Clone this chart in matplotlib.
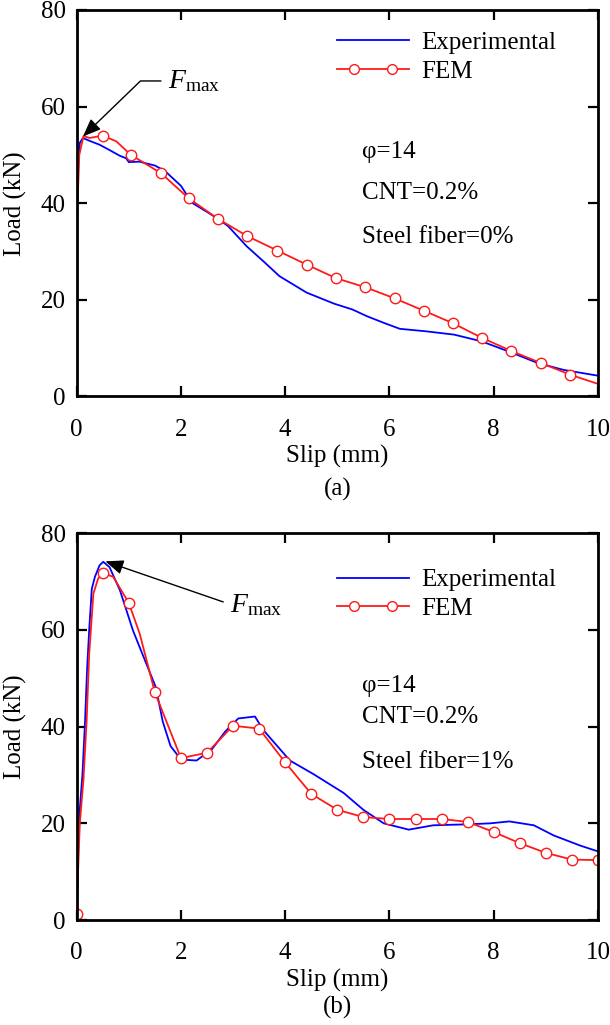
#!/usr/bin/env python3

import matplotlib
matplotlib.use("Agg")
import matplotlib.pyplot as plt
from matplotlib.lines import Line2D
from matplotlib.legend_handler import HandlerLine2D, HandlerTuple


##### step 1: data #####
# (a) steel fiber = 0%
exp_a_x = [0.0, 0.03, 0.06, 0.12, 0.25, 0.44, 0.63, 0.83, 0.95, 1.0, 1.2, 1.5, 1.69,
           2.0, 2.21, 2.5, 2.75, 2.91, 3.26, 3.6, 3.89, 4.41, 4.94, 5.29, 5.57, 5.9,
           6.2, 6.69, 7.24, 7.77, 8.29, 8.85, 9.34, 10.0]
exp_a_y = [32.5, 48.0, 52.5, 53.5, 52.9, 52.1, 51.0, 49.8, 49.3, 48.5, 48.6, 47.8, 46.7,
           43.6, 40.1, 38.2, 36.5, 35.2, 31.1, 27.8, 24.9, 21.5, 19.2, 18.0, 16.6, 15.2,
           14.0, 13.5, 12.8, 11.4, 9.3, 6.9, 5.5, 4.3]

fem_a_x = [0.0, 0.05, 0.13, 0.25, 0.5, 0.76, 1.04, 1.62, 2.15, 2.72, 3.27, 3.85, 4.41,
           4.97, 5.54, 6.10, 6.67, 7.21, 7.78, 8.34, 8.91, 9.47, 10.0]
fem_a_y = [35.0, 50.0, 53.9, 53.5, 54.0, 52.8, 50.0, 46.2, 41.0, 36.7, 33.2, 30.2, 27.3,
           24.5, 22.6, 20.3, 17.7, 15.2, 12.1, 9.4, 6.9, 4.5, 2.6]
fem_a_marks = [4] + list(range(6, 22))

# (b) steel fiber = 1%
exp_b_x = [0.0, 0.03, 0.06, 0.11, 0.16, 0.2, 0.24, 0.29, 0.35, 0.44, 0.51, 0.63, 0.83,
           1.08, 1.21, 1.52, 1.65, 1.8, 2.0, 2.3, 2.6, 2.85, 3.1, 3.42, 3.58, 4.09, 4.54,
           5.12, 5.5, 5.89, 6.37, 6.84, 7.49, 7.93, 8.3, 8.77, 9.15, 9.66, 10.0]
exp_b_y = [0.5, 15.0, 23.0, 30.0, 41.0, 52.0, 60.0, 68.5, 71.0, 73.4, 74.1, 73.0, 68.2,
           59.9, 56.4, 48.1, 41.1, 36.0, 33.2, 33.0, 35.4, 39.0, 41.7, 42.1, 39.3, 33.0,
           30.2, 26.3, 22.8, 20.0, 18.7, 19.6, 19.8, 20.0, 20.4, 19.6, 17.5, 15.4, 14.2]

fem_b_x = [0.0, 0.02, 0.06, 0.13, 0.19, 0.24, 0.32, 0.41, 0.5, 0.7, 1.0, 1.21, 1.5, 2.0,
           2.5, 3.0, 3.5, 4.0, 4.5, 5.0, 5.5, 6.0, 6.5, 7.0, 7.5, 8.0, 8.5, 9.0, 9.5, 10.0]
fem_b_y = [1.2, 8.0, 20.0, 29.0, 41.0, 55.0, 67.5, 70.6, 71.8, 71.0, 65.6, 59.2, 47.1,
           33.5, 34.6, 40.2, 39.6, 32.6, 26.1, 22.8, 21.3, 20.9, 20.9, 20.9, 20.3, 18.2,
           15.9, 13.9, 12.5, 12.4]
fem_b_marks = [0, 8, 10] + list(range(12, 30))

X_TICKS = [0, 2, 4, 6, 8, 10]
Y_TICKS = [0, 20, 40, 60, 80]

PANELS = [
    dict(exp_x=exp_a_x, exp_y=exp_a_y, fem_x=fem_a_x, fem_y=fem_a_y, marks=fem_a_marks,
         fiber="Steel fiber=0%", caption="(a)",
         head=(0.12, 53.8), text_xy=(1.75, 65.3), angleB=44,
         notes_xy=(5.47, [50.6, 42.1, 33.0]), leg_y=1.002),
    dict(exp_x=exp_b_x, exp_y=exp_b_y, fem_x=fem_b_x, fem_y=fem_b_y, marks=fem_b_marks,
         fiber="Steel fiber=1%", caption="(b)",
         head=(0.55, 74.2), text_xy=(2.94, 65.2), angleB=-19,
         notes_xy=(5.47, [48.5, 41.9, 32.7]), leg_y=0.966),
]

BLUE = "#0000ff"
RED = "#ff1a1a"
FS = 18

plt.rcParams["font.family"] = ["Liberation Serif", "DejaVu Serif"]
plt.rcParams["mathtext.fontset"] = "custom"
plt.rcParams["mathtext.rm"] = "Liberation Serif"
plt.rcParams["mathtext.it"] = "Liberation Serif:italic"


##### step 2: figure #####
fig = plt.figure(figsize=(6.1, 10.25), dpi=100)
axes_pos = [[0.1257, 0.6132, 0.8546, 0.3771], [0.1257, 0.1024, 0.8546, 0.3773]]
caption_y = [0.522, 0.0176]

for pos, p, cy in zip(axes_pos, PANELS, caption_y):
    ax = fig.add_axes(pos)

    exp_line, = ax.plot(p["exp_x"], p["exp_y"], color=BLUE, lw=1.3)
    ax.plot(p["fem_x"], p["fem_y"], color=RED, lw=1.3, marker="o", ms=7.5,
            mfc="white", mec=RED, mew=1.0, markevery=p["marks"])

    ax.set_xlim(0, 10)
    ax.set_ylim(0, 80)
    ax.set_xticks(X_TICKS)
    ax.set_yticks(Y_TICKS)
    ax.tick_params(direction="in", length=7, width=1.6, top=True, right=True,
                   labelsize=FS)
    ax.tick_params(axis="x", pad=16)
    ax.tick_params(axis="y", pad=8)
    for s in ax.spines.values():
        s.set_linewidth(2.0)

    ax.set_xlabel("Slip (mm)", fontsize=FS, labelpad=3)
    ax.set_ylabel("Load (kN)", fontsize=FS, labelpad=10)

    ##### legend with line running past the two markers #####
    fem_lh = Line2D([], [], color=RED, lw=1.3)
    fem_mh = Line2D([], [], ls="none", marker="o", ms=7, mfc="white", mec=RED, mew=1.0)
    ax.legend([exp_line, (fem_lh, fem_mh)], ["Experimental", "FEM"],
              handler_map={fem_mh: HandlerLine2D(numpoints=2, marker_pad=0.68),
                           tuple: HandlerTuple(ndivide=1)},
              loc="upper left", bbox_to_anchor=(0.456, p["leg_y"]), frameon=False,
              fontsize=FS, handlelength=2.9, handletextpad=0.48, labelspacing=0.25)

    ##### notes #####
    nx, nys = p["notes_xy"]
    for t, ny in zip(["\u03c6=14", "CNT=0.2%", p["fiber"]], nys):
        ax.text(nx, ny, t, fontsize=FS, va="center", ha="left")

    ##### F_max pointer #####
    ax.annotate(r"$F_{\mathrm{max}}$", xy=p["head"], xytext=p["text_xy"],
                fontsize=20, va="center", ha="left",
                arrowprops=dict(arrowstyle="-|>,head_length=0.55,head_width=0.22",
                                color="black", lw=1.0, relpos=(0, 0.5),
                                shrinkA=3, shrinkB=0,
                                connectionstyle=f"angle,angleA=0,angleB={p['angleB']},rad=0"))

    fig.text(0.553, cy, p["caption"], fontsize=FS, ha="center", va="center")

fig.savefig("out.png", dpi=100)
